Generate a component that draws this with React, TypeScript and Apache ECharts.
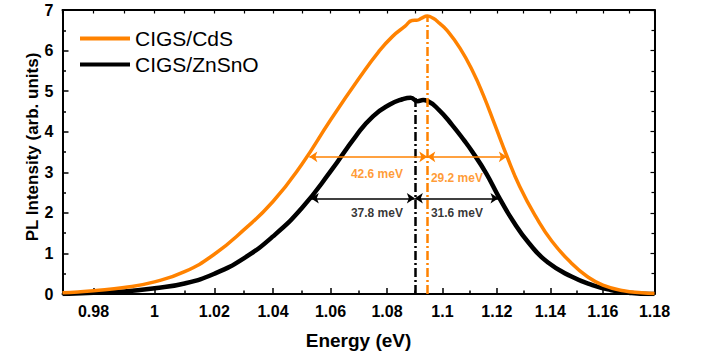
import React, { useEffect, useRef } from 'react';
import * as echarts from 'echarts';

// Energy axis is logarithmic in the reference
const energyCdS = [0.97, 0.975, 0.98, 0.99, 1.0, 1.01, 1.02, 1.03, 1.04, 1.05, 1.06, 1.0705, 1.077, 1.082, 1.0865, 1.089, 1.091, 1.0925, 1.0945, 1.0965, 1.099, 1.1015, 1.1064, 1.1113, 1.115, 1.1192, 1.1236, 1.1285, 1.1346, 1.1406, 1.148, 1.154, 1.16, 1.168, 1.175, 1.18];
const intensityCdS = [0.03, 0.05, 0.08, 0.16, 0.3, 0.55, 0.98, 1.58, 2.28, 3.2, 4.29, 5.36, 5.97, 6.35, 6.6, 6.74, 6.75, 6.8, 6.85, 6.8, 6.67, 6.51, 6.06, 5.46, 4.9, 4.18, 3.42, 2.65, 1.9, 1.3, 0.76, 0.43, 0.22, 0.08, 0.03, 0.01];

const energyZnSnO = [0.97, 0.98, 0.99, 1.0, 1.01, 1.02, 1.03, 1.04, 1.05, 1.06, 1.069, 1.075, 1.081, 1.0855, 1.0885, 1.091, 1.093, 1.0945, 1.0987, 1.1035, 1.108, 1.111, 1.116, 1.1205, 1.126, 1.132, 1.139, 1.148, 1.156, 1.163, 1.17, 1.178, 1.18];
const intensityZnSnO = [0.0, 0.03, 0.06, 0.14, 0.26, 0.5, 0.88, 1.42, 2.12, 3.02, 3.9, 4.38, 4.67, 4.8, 4.84, 4.75, 4.78, 4.76, 4.54, 4.17, 3.78, 3.5, 2.98, 2.42, 1.8, 1.25, 0.78, 0.43, 0.22, 0.1, 0.03, 0.0, 0.0];

const majorTicks = [0.98, 1.0, 1.02, 1.04, 1.06, 1.08, 1.1, 1.12, 1.14, 1.16, 1.18];
const minorTicks = [0.97, 0.99, 1.01, 1.03, 1.05, 1.07, 1.09, 1.11, 1.13, 1.15, 1.17];

const peakCdS = [1.0945, 6.85];
const peakZnSnO = [1.09, 4.84];
const halfWidthCdS = [1.0526, 1.1237, 3.38];
const halfWidthZnSnO = [1.0531, 1.1206, 2.36];
const widthLabels = ['42.6 meV', '29.2 meV', '37.8 meV', '31.6 meV'];
const widthLabelPos = [[1.0764, 2.97], [1.1053, 2.85], [1.0764, 1.99], [1.1053, 1.99]];

const ORANGE = '#ff8200';
const FONT = 'Liberation Sans, Arial, sans-serif';
const L = Math.log;

export default function App() {
  const ref = useRef<HTMLDivElement>(null);
  useEffect(() => {
    if (!ref.current) return;
    const chart = echarts.init(ref.current, null, { renderer: 'svg' });
    const xMin = L(0.97);
    const xMax = L(1.18);
    const fmt = (v: number) => String(parseFloat(Math.exp(v).toFixed(2)));
    const baseX = {
      type: 'value', min: xMin, max: xMax, gridIndex: 0,
      splitLine: { show: false },
    };
    const dashPattern = [9, 3, 2, 3];
    const arrowPair = (x1: number, x2: number, y: number, color: string) => [
      { coord: [L(x1), y], symbol: 'arrow', symbolSize: 8, lineStyle: { color, width: 1.5, type: 'solid' } },
      { coord: [L(x2), y], symbol: 'arrow', symbolSize: 8 },
    ];
    const vline = (x: number, y: number, color: string) => [
      { coord: [L(x), 0], symbol: 'none', lineStyle: { color, width: 2.5, type: dashPattern } },
      { coord: [L(x), y], symbol: 'none' },
    ];
    chart.setOption({
      animation: false,
      grid: { left: 62.5, right: 47.5, top: 10, bottom: 62, containLabel: false, outerBoundsMode: 'none' },
      legend: {
        data: ['CIGS/CdS', 'CIGS/ZnSnO'],
        orient: 'vertical', left: 75, top: 23,
        icon: 'rect', itemWidth: 50, itemHeight: 4, itemGap: 5,
        textStyle: { fontFamily: FONT, fontSize: 21, color: '#000', lineHeight: 21 },
      },
      xAxis: [
        {
          ...baseX, position: 'bottom',
          name: 'Energy (eV)', nameLocation: 'middle', nameGap: 37, nameMoveOverlap: false,
          nameTextStyle: { fontFamily: FONT, fontSize: 19, fontWeight: 'bold', color: '#000' },
          axisLine: { show: true, onZero: false, lineStyle: { color: '#000', width: 2 } },
          axisTick: { show: true, inside: true, length: 6, customValues: majorTicks.map(L), lineStyle: { color: '#000', width: 1.5 } },
          axisLabel: { show: true, customValues: majorTicks.map(L), formatter: fmt, margin: 9, fontFamily: FONT, fontSize: 16, fontWeight: 'bold', color: '#000' },
        },
        {
          ...baseX, position: 'bottom',
          axisLine: { show: false, onZero: false },
          axisTick: { show: true, inside: true, length: 3.5, customValues: minorTicks.map(L), lineStyle: { color: '#000', width: 1.5 } },
          axisLabel: { show: false },
        },
        {
          ...baseX, position: 'top',
          axisLine: { show: true, onZero: false, lineStyle: { color: '#000', width: 2 } },
          axisTick: { show: true, inside: true, length: 3.5, customValues: majorTicks.concat(minorTicks).map(L), lineStyle: { color: '#000', width: 1.2 } },
          axisLabel: { show: false },
        },
      ],
      yAxis: [
        {
          type: 'value', min: 0, max: 7, interval: 1, position: 'left',
          name: 'PL Intensity (arb. units)', nameLocation: 'middle', nameGap: 22, nameMoveOverlap: false,
          nameTextStyle: { fontFamily: FONT, fontSize: 17, fontWeight: 'bold', color: '#000', padding: [0, 0, 0, 10] },
          splitLine: { show: false },
          axisLine: { show: true, onZero: false, lineStyle: { color: '#000', width: 2 } },
          axisTick: { show: true, inside: true, length: 6, lineStyle: { color: '#000', width: 1.5 } },
          minorTick: { show: true, splitNumber: 2, length: 3.5, lineStyle: { color: '#000', width: 1.5 } },
          axisLabel: { margin: 9, fontFamily: FONT, fontSize: 16, fontWeight: 'bold', color: '#000' },
        },
        {
          type: 'value', min: 0, max: 7, interval: 1, position: 'right',
          splitLine: { show: false },
          axisLine: { show: true, onZero: false, lineStyle: { color: '#000', width: 2 } },
          axisTick: { show: true, inside: true, length: 4, lineStyle: { color: '#000', width: 1.2 } },
          minorTick: { show: true, splitNumber: 2, length: 3, lineStyle: { color: '#000', width: 1.2 } },
          axisLabel: { show: false },
        },
      ],
      series: [
        {
          name: 'CIGS/ZnSnO', type: 'line', xAxisIndex: 0, yAxisIndex: 0,
          data: energyZnSnO.map((e, i) => [L(e), intensityZnSnO[i]]),
          showSymbol: false, smooth: 0.5,
          lineStyle: { color: '#000', width: 4.5 }, itemStyle: { color: '#000' },
          markLine: {
            silent: true, label: { show: false }, emphasis: { disabled: true },
            data: [
              vline(peakZnSnO[0], peakZnSnO[1], '#000'),
              arrowPair(halfWidthZnSnO[0], peakZnSnO[0], halfWidthZnSnO[2], '#000'),
              arrowPair(peakZnSnO[0], halfWidthZnSnO[1], halfWidthZnSnO[2], '#000'),
            ],
          },
        },
        {
          name: 'CIGS/CdS', type: 'line', xAxisIndex: 0, yAxisIndex: 0,
          data: energyCdS.map((e, i) => [L(e), intensityCdS[i]]),
          showSymbol: false, smooth: 0.5,
          lineStyle: { color: ORANGE, width: 3.5 }, itemStyle: { color: ORANGE },
          markLine: {
            silent: true, label: { show: false }, emphasis: { disabled: true },
            data: [
              vline(peakCdS[0], peakCdS[1], ORANGE),
              arrowPair(halfWidthCdS[0], peakCdS[0], halfWidthCdS[2], ORANGE),
              arrowPair(peakCdS[0], halfWidthCdS[1], halfWidthCdS[2], ORANGE),
            ],
          },
        },
        {
          type: 'scatter', xAxisIndex: 0, yAxisIndex: 0, silent: true,
          symbolSize: 1, itemStyle: { color: 'rgba(0,0,0,0)' },
          data: widthLabels.map((t, i) => ({
            value: [L(widthLabelPos[i][0]), widthLabelPos[i][1]],
            label: {
              show: true, position: 'inside', formatter: t,
              fontFamily: FONT, fontSize: 12, fontWeight: 'bold',
              color: i < 2 ? ORANGE : '#000',
            },
          })),
        },
      ],
    });
    return () => chart.dispose();
  }, []);
  return <div ref={ref} style={{ width: 702, height: 356, position: 'absolute', left: 0, top: 0 }} />;
}
